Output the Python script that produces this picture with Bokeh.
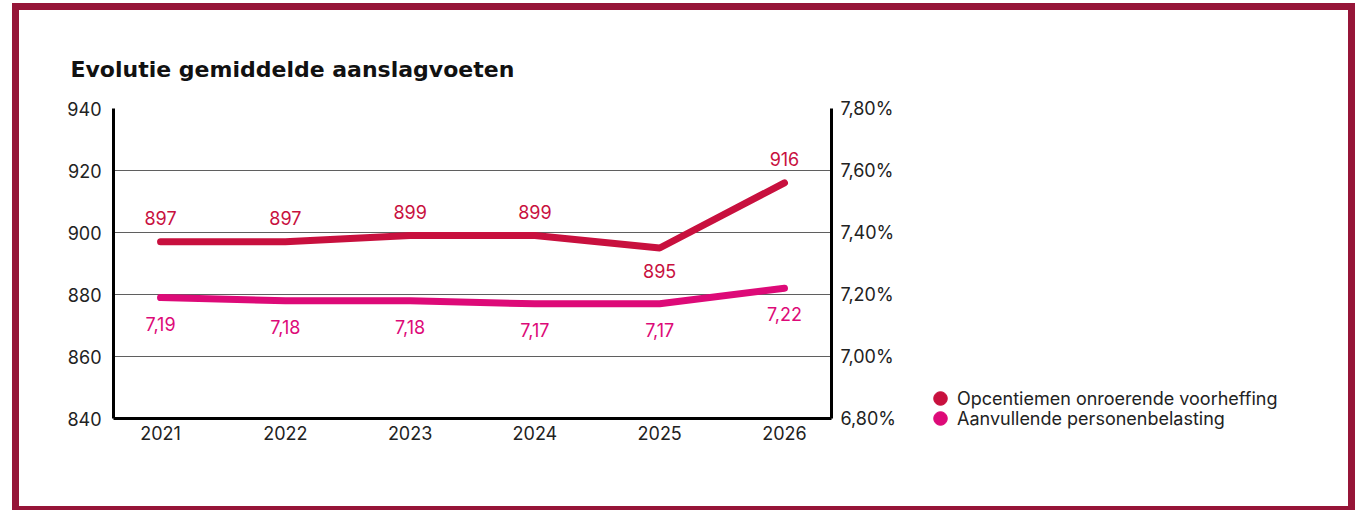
from bokeh.plotting import figure
from bokeh.layouts import row
from bokeh.models import (Range1d, LinearAxis, FixedTicker, CustomJSTickFormatter,
                          ColumnDataSource, LabelSet, Legend, LegendItem)
from bokeh.core.properties import value
from bokeh.embed import file_html
from bokeh.resources import INLINE

years = [2021, 2022, 2023, 2024, 2025, 2026]
opcentiemen = [897, 897, 899, 899, 895, 916]
personenbelasting = [7.19, 7.18, 7.18, 7.17, 7.17, 7.22]
left_ticks = [840, 860, 880, 900, 920, 940]
right_ticks = [6.8, 7.0, 7.2, 7.4, 7.6, 7.8]
series_names = ["Opcentiemen onroerende voorheffing", "Aanvullende personenbelasting"]
title_text = "Evolutie gemiddelde aanslagvoeten"

C1 = "#C8103E"
C2 = "#DD0A78"
TXT = "#222222"
FONT = "Inter"
FS = "18px"
BORDER = "#961538"
H = 496

p = figure(frame_width=718, frame_height=310, height=H,
           min_border_left=94, min_border_right=90, min_border_top=98, min_border_bottom=88,
           x_range=Range1d(years[0] - 0.377, years[-1] + 0.377),
           y_range=Range1d(left_ticks[0], left_ticks[-1]),
           output_backend="svg", toolbar_location=None, tools="")
p.extra_y_ranges = {"right": Range1d(right_ticks[0], right_ticks[-1])}
p.outline_line_color = None
p.background_fill_color = "white"
p.border_fill_color = "white"

p.title.text = title_text
p.title.text_font = "DejaVu Sans"
p.title.text_font_size = "22px"
p.title.text_font_style = "bold"
p.title.text_color = "#111111"
p.title.align = "left"
p.title.offset = -43
p.title.standoff = 53

# axes
p.xaxis.ticker = FixedTicker(ticks=years)
p.yaxis.ticker = FixedTicker(ticks=left_ticks)
right_axis = LinearAxis(y_range_name="right", ticker=FixedTicker(ticks=right_ticks),
                        formatter=CustomJSTickFormatter(code="return tick.toFixed(2).replace('.', ',') + '%';"))
p.add_layout(right_axis, "right")
for ax in [p.xaxis[0], p.yaxis[0], right_axis]:
    ax.axis_line_color = "black"
    ax.axis_line_width = 3
    ax.major_tick_line_color = None
    ax.minor_tick_line_color = None
    ax.major_label_text_font = FONT
    ax.major_label_text_font_size = FS
    ax.major_label_text_color = TXT
    ax.major_label_standoff = 6
p.xaxis.major_label_standoff = 1
right_axis.major_label_standoff = 3

p.xgrid.grid_line_color = None
p.ygrid.grid_line_color = "#5f5f5f"
p.ygrid.grid_line_width = 1.2

# lines
p.line(years, opcentiemen, line_color=C1, line_width=7, line_cap="round", line_join="round")
p.line(years, personenbelasting, line_color=C2, line_width=7, line_cap="round",
       line_join="round", y_range_name="right")

# data labels
off1 = []
for i, v in enumerate(opcentiemen):
    prev_v = opcentiemen[i - 1] if i > 0 else v + 1
    next_v = opcentiemen[i + 1] if i < len(opcentiemen) - 1 else v + 1
    off1.append(-23 if (v < prev_v and v < next_v) else 24)
src1 = ColumnDataSource(dict(x=years, y=opcentiemen, t=[str(v) for v in opcentiemen], off=off1))
src2 = ColumnDataSource(dict(x=years, y=personenbelasting,
                             t=[f"{v:.2f}".replace(".", ",") for v in personenbelasting],
                             off=[-26] * len(years)))
lab1 = LabelSet(x="x", y="y", text="t", source=src1, y_offset="off", text_align="center",
                text_baseline="middle", text_font=value(FONT), text_font_size=value(FS),
                text_color=C1)
lab2 = LabelSet(x="x", y="y", text="t", source=src2, y_offset="off", text_align="center",
                text_baseline="middle", text_font=value(FONT), text_font_size=value(FS),
                text_color=C2, y_range_name="right")
p.add_layout(lab1)
p.add_layout(lab2)

# legend panel (separate figure to the right of the chart)
q = figure(width=427, height=H, min_border=0, x_range=Range1d(0, 1), y_range=Range1d(0, 1),
           x_axis_type=None, y_axis_type=None,
           output_backend="svg", toolbar_location=None, tools="")
q.frame_align = False
q.grid.grid_line_color = None
q.outline_line_color = None
q.background_fill_color = "white"
q.border_fill_color = "white"
# renderers with data outside the visible range: only their legend dots show
m1 = q.scatter(years, opcentiemen, marker="circle", fill_color=C1, line_color=C1)
m2 = q.scatter(years, personenbelasting, marker="circle", fill_color=C2, line_color=C2)
for rend, name, loc in [(m1, series_names[0], (2, 90)), (m2, series_names[1], (2, 70))]:
    lg = Legend(items=[LegendItem(label=name, renderers=[rend])], location=loc,
                glyph_width=34, glyph_height=36, label_height=36, label_standoff=0,
                padding=0, margin=0, border_line_color=None, background_fill_alpha=0,
                label_text_font=FONT, label_text_font_size=FS, label_text_color=TXT)
    q.add_layout(lg, "center")

layout = row(p, q, spacing=0)
layout.styles = {"border": f"7px solid {BORDER}", "transform": "translate(12px, 3px)",
                 "margin-bottom": "-10px"}

open("out.html", "w").write(file_html(layout, INLINE))
